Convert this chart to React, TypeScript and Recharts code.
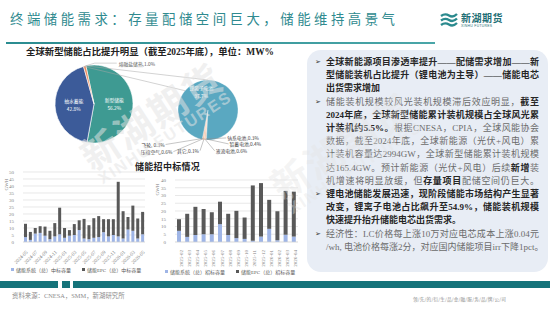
import React from "react";
import { PieChart, Pie, Cell, BarChart, Bar, XAxis, YAxis, CartesianGrid } from "recharts";

// 全球储能结构（截至2025年底）
const shareNames = ["新型储能", "抽水蓄能", "熔融盐储热"];
const shareValues = [56.2, 42.8, 1.0];
const shareColors = ["#3e9a92", "#3c5b99", "#ee8a5b"];

// 新型储能技术路线
const techNames = ["钠系电池", "铅蓄电池", "液流电池", "其它", "压缩空气", "飞轮", "锂离子电池"];
const techValues = [0.3, 0.4, 0.6, 0.1, 0.6, 0.3, 97.7];
const techColors = ["#e07c55", "#f3b287", "#e9996c", "#c9c9c9", "#f0a878", "#d9825a", "#5aa8c1"];

// 中标容量 GWh
const winMonths = [
  "2024-05", "2024-06", "2024-07", "2024-08", "2024-09", "2024-10", "2024-11", "2024-12",
  "2025-01", "2025-02", "2025-03", "2025-04", "2025-05", "2025-06", "2025-07", "2025-08",
  "2025-09", "2025-10", "2025-11", "2025-12", "2026-01", "2026-02", "2026-03", "2026-04", "2026-05",
];
const winSystem = [3.5, 1.5, 6, 6.5, 4.5, 2, 4, 5.5, 3, 4.5, 5, 8.5, 2.5, 2, 3, 3.5, 7, 4, 5, 4, 2.5, 9, 8, 2.5, 5.5];
const winEpc = [9.5, 5.7, 4, 4.8, 6.5, 6, 9.5, 19, 7, 4, 7.8, 7, 14, 10, 14, 15, 9.3, 12.3, 11.3, 39, 19.5, 8.8, 18, 14.3, 16];
const winTicks = [0, 5, 10, 15, 20, 25, 30, 35, 40, 45, 50];

// 招标容量 GWh
const bidMonths = [
  "2025-02", "2025-03", "2025-04", "2025-05", "2025-06", "2025-07", "2025-08", "2025-09",
  "2025-10", "2025-11", "2025-12", "2026-01", "2026-02", "2026-03", "2026-04",
];
const bidSystem = [7.2, 3.3, 4.5, 5, 5, 11.5, 4.5, 2.5, 2, 0.8, 3.5, 8.5, 1.2, 4.7, 3.5];
const bidEpc = [7.5, 14.9, 18.2, 16.3, 14.2, 14.5, 13.7, 17.6, 13.8, 35.7, 34.5, 18.7, 18.6, 28.3, 29];
const bidTicks = [0, 5, 10, 15, 20, 25, 30, 35, 40];

const SYS_COLOR = "#9fb5e6";
const EPC_COLOR = "#595959";
const RAD = Math.PI / 180;
const SERIF = '"Liberation Serif", "Noto Sans CJK SC", serif';
const SANS = '"Noto Sans CJK SC", "Noto Sans", sans-serif';

const BIG = { cx: 94, cy: 104, r: 39, start: 102 };
const SMALL = { cx: 208, cy: 110, r: 30, start: -93 };

// label offsets for the tiny slices, relative to slice outer point
const techLabelPos: Record<string, [number, number, "start" | "end"]> = {
  钠系电池: [20, -1, "start"],
  铅蓄电池: [23, 5, "start"],
  液流电池: [10, 12, "start"],
  其它: [-4, 12, "end"],
  压缩空气: [-30, 13, "end"],
  飞轮: [-37, 6, "end"],
};

const pt = (cx: number, cy: number, r: number, ang: number) => [
  cx + r * Math.cos(-ang * RAD),
  cy + r * Math.sin(-ang * RAD),
];

const bigLabel = (p: any) => {
  const { cx, cy, midAngle, outerRadius, name, value } = p;
  if (name === "熔融盐储热") {
    const [x0, y0] = pt(cx, cy, outerRadius, midAngle);
    return (
      <g>
        <polyline points={`${x0},${y0} ${x0 + 10},${y0 - 3} ${x0 + 32},${y0 - 3}`} stroke="#a6a6a6" strokeWidth={0.5} fill="none" />
        <text x={x0 + 34} y={y0 - 3} fontSize={4.8} fill="#595959" dominantBaseline="central" fontFamily={SANS}>
          {name},{value.toFixed(1)}%
        </text>
      </g>
    );
  }
  const [x, y] = pt(cx, cy, outerRadius * 0.52, midAngle);
  return (
    <text x={x} y={y} fill="#fff" fontSize={4.8} textAnchor="middle" fontFamily={SANS}>
      <tspan x={x} dy="-0.3em">{name}</tspan>
      <tspan x={x} dy="1.6em">{value.toFixed(1)}%</tspan>
    </text>
  );
};

const techLabel = (p: any) => {
  const { cx, cy, midAngle, outerRadius, name, value } = p;
  if (name === "锂离子电池") {
    const [x, y] = pt(cx, cy, outerRadius * 0.62, midAngle);
    return (
      <text x={x - 9} y={y} fill="#fff" fontSize={4.8} textAnchor="middle" fontFamily={SANS}>
        <tspan x={x - 9} dy="-0.3em">{name}</tspan>
        <tspan x={x - 9} dy="1.6em">{value.toFixed(1)}%</tspan>
      </text>
    );
  }
  const [x0, y0] = pt(cx, cy, outerRadius - 1, midAngle);
  const [dx, dy, anchor] = techLabelPos[name];
  const label = name === "飞轮" ? `${name}, ${value}%` : `${name},${value}%`;
  return (
    <g>
      <line x1={x0} y1={y0} x2={x0 + dx} y2={y0 + dy} stroke="#8c8c8c" strokeWidth={0.5} />
      <text x={x0 + dx + (anchor === "start" ? 1 : -1)} y={y0 + dy} fontSize={4.8} fill="#404040" textAnchor={anchor} dominantBaseline="central" fontFamily={SANS}>
        {label}
      </text>
    </g>
  );
};

function PiePanel() {
  const shareRows = shareNames.map((n, i) => ({ name: n, value: shareValues[i] }));
  const techRows = techNames.map((n, i) => ({ name: n, value: techValues[i] }));
  // connector lines from the split slice to the secondary pie
  const total = shareValues.reduce((a, b) => a + b, 0);
  const splitEnd = BIG.start - 360 * (shareValues[0] + shareValues[1]) / total;
  const [ax, ay] = pt(BIG.cx, BIG.cy, BIG.r, splitEnd);
  const [bx, by] = pt(BIG.cx, BIG.cy, BIG.r, splitEnd - 360 * shareValues[2] / total);
  const [tx, ty] = pt(SMALL.cx, SMALL.cy, SMALL.r, 90);
  const [lx, ly] = pt(SMALL.cx, SMALL.cy, SMALL.r, 140);
  return (
    <div style={{ position: "absolute", left: 0, top: 0 }}>
      <PieChart width={300} height={165} margin={{ top: 0, right: 0, bottom: 0, left: 0 }}>
        <Pie
          data={shareRows}
          dataKey="value"
          cx={BIG.cx}
          cy={BIG.cy}
          outerRadius={BIG.r}
          startAngle={BIG.start}
          endAngle={BIG.start - 360}
          stroke="#fff"
          strokeWidth={0.6}
          label={bigLabel}
          labelLine={false}
          isAnimationActive={false}
        >
          {shareRows.map((r, i) => (
            <Cell key={r.name} fill={shareColors[i]} />
          ))}
        </Pie>
        <Pie
          data={techRows}
          dataKey="value"
          cx={SMALL.cx}
          cy={SMALL.cy}
          outerRadius={SMALL.r}
          startAngle={SMALL.start}
          endAngle={SMALL.start - 360}
          stroke="#fff"
          strokeWidth={0.3}
          label={techLabel}
          labelLine={false}
          isAnimationActive={false}
        >
          {techRows.map((r, i) => (
            <Cell key={r.name} fill={techColors[i]} />
          ))}
        </Pie>
      </PieChart>
      <svg width={300} height={165} style={{ position: "absolute", left: 0, top: 0, pointerEvents: "none" }}>
        <line x1={bx} y1={by} x2={tx} y2={ty} stroke="#a6a6a6" strokeWidth={0.5} />
        <line x1={ax} y1={ay} x2={lx} y2={ly} stroke="#a6a6a6" strokeWidth={0.5} />
      </svg>
    </div>
  );
}

type BarsProps = {
  months: string[];
  sys: number[];
  epc: number[];
  ticks: number[];
  width: number;
  height: number;
  margin: { top: number; right: number; bottom: number; left: number };
  yWidth: number;
  barSize: number;
  interval: number;
  angle: number;
};

function StackBars({ months, sys, epc, ticks, width, height, margin, yWidth, barSize, interval, angle }: BarsProps) {
  const rows = months.map((m, i) => ({ month: m, sys: sys[i], epc: epc[i] }));
  const tick = { fontSize: 5, fill: "#7f7f7f", fontFamily: '"Liberation Serif", serif' };
  return (
    <BarChart width={width} height={height} data={rows} margin={margin}>
      <CartesianGrid vertical={false} stroke="#d9d9d9" strokeWidth={0.6} />
      <XAxis
        dataKey="month"
        interval={interval}
        angle={angle}
        textAnchor="end"
        height={24}
        tickLine={false}
        axisLine={{ stroke: "#d9d9d9", strokeWidth: 0.6 }}
        tick={tick}
        tickMargin={2}
      />
      <YAxis
        width={yWidth}
        domain={[0, ticks[ticks.length - 1]]}
        ticks={ticks}
        interval={0}
        tickLine={false}
        axisLine={false}
        tick={tick}
        tickMargin={3}
      />
      <Bar dataKey="sys" stackId="a" fill={SYS_COLOR} barSize={barSize} isAnimationActive={false} />
      <Bar dataKey="epc" stackId="a" fill={EPC_COLOR} barSize={barSize} isAnimationActive={false} />
    </BarChart>
  );
}

function Legend({ left, top, items }: { left: number; top: number; items: string[] }) {
  return (
    <div style={{ position: "absolute", left, top, display: "flex", gap: 11, fontSize: 5, color: "#595959", fontFamily: SERIF, whiteSpace: "nowrap" }}>
      {items.map((t, i) => (
        <span key={t} style={{ display: "flex", alignItems: "center" }}>
          <span style={{ width: 3, height: 3, background: i === 0 ? SYS_COLOR : EPC_COLOR, marginRight: 2, display: "inline-block" }} />
          {t}
        </span>
      ))}
    </div>
  );
}

type Seg = { t: string; b?: boolean };
const panelLines: { segs: Seg[]; bullet?: boolean; justify?: boolean }[] = [
  { bullet: true, justify: true, segs: [{ t: "全球新能源项目渗透率提升——配储需求增加——新", b: true }] },
  { justify: true, segs: [{ t: "型储能装机占比提升（锂电池为主导）——储能电芯", b: true }] },
  { segs: [{ t: "出货需求增加", b: true }] },
  { bullet: true, justify: true, segs: [{ t: "储能装机规模较风光装机规模滞后效应明显，" }, { t: "截至", b: true }] },
  { justify: true, segs: [{ t: "2024年底，全球新型储能累计装机规模占全球风光累", b: true }] },
  { justify: true, segs: [{ t: "计装机约5.5%。", b: true }, { t: "根据CNESA，CPIA，全球风能协会" }] },
  { justify: true, segs: [{ t: "数据，截至2024年底，全球新能源（光伏+风电）累" }] },
  { justify: true, segs: [{ t: "计装机容量达2994GW，全球新型储能累计装机规模" }] },
  { justify: true, segs: [{ t: "达165.4GW。预计新能源（光伏+风电）后续" }, { t: "新增", b: true }, { t: "装" }] },
  { justify: true, segs: [{ t: "机增速将明显放缓，但" }, { t: "存量项目", b: true }, { t: "配储空间仍巨大。" }] },
  { bullet: true, justify: true, segs: [{ t: "锂电池储能发展迅速，现阶段储能市场结构产生显著", b: true }] },
  { justify: true, segs: [{ t: "改变，锂离子电池占比飙升至54.9%，储能装机规模", b: true }] },
  { segs: [{ t: "快速提升抬升储能电芯出货需求。", b: true }] },
  { bullet: true, justify: true, segs: [{ t: "经济性：LC价格每上涨10万对应电芯成本上涨0.04元" }] },
  { justify: true, segs: [{ t: "/wh, 电池价格每涨2分，对应国内储能项目irr下降1pct。" }] },
];

function TextPanel() {
  const lh = 13.2;
  const top0 = 56;
  return (
    <div style={{ position: "absolute", left: 307, top: 50, width: 241, height: 222, background: "#e8edf5", borderRadius: 14 }}>
      {panelLines.map((ln, i) => (
        <React.Fragment key={i}>
          {ln.bullet && (
            <div style={{ position: "absolute", left: 8, top: top0 - 50 + i * lh, lineHeight: `${lh}px`, fontSize: 7, color: "#333", fontFamily: '"DejaVu Sans", sans-serif' }}>
              ➢
            </div>
          )}
          <div
            style={{
              position: "absolute",
              left: 19,
              top: top0 - 50 + i * lh,
              width: 213,
              lineHeight: `${lh}px`,
              fontSize: 9,
              fontFamily: SERIF,
              whiteSpace: "nowrap",
              textAlign: ln.justify ? "justify" : "left",
              textAlignLast: ln.justify ? "justify" : "left",
            }}
          >
            {ln.segs.map((s, j) => (
              <span key={j} style={{ fontWeight: s.b ? 700 : 400, color: s.b ? "#262626" : "#6b6b6b" }}>
                {s.t}
              </span>
            ))}
          </div>
        </React.Fragment>
      ))}
    </div>
  );
}

function Logo() {
  return (
    <div style={{ position: "absolute", left: 440, top: 12, display: "flex", alignItems: "center" }}>
      <svg width={18} height={16} viewBox="0 0 18 16">
        {[2, 6.5, 11].map((y) => (
          <path key={y} d={`M1 ${y + 2} Q5 ${y - 1} 9 ${y + 1.5} T17 ${y}`} stroke="#2b8a8e" strokeWidth={2.4} fill="none" />
        ))}
      </svg>
      <div style={{ marginLeft: 3 }}>
        <div style={{ fontSize: 10, lineHeight: "11px", fontWeight: 700, color: "#1f6f76", fontFamily: SANS, letterSpacing: 0.5 }}>新湖期货</div>
        <div style={{ fontSize: 3.4, lineHeight: "4px", color: "#1f6f76", fontFamily: '"Liberation Sans", sans-serif', marginTop: 1, letterSpacing: 0.3 }}>XINHU FUTURES</div>
      </div>
    </div>
  );
}

function Watermark({ left, top, alpha }: { left: number; top: number; alpha: number }) {
  return (
    <div
      style={{
        position: "absolute",
        left,
        top,
        transform: "rotate(-33deg)",
        transformOrigin: "center",
        pointerEvents: "none",
        color: `rgba(228,228,228,${alpha})`,
        textAlign: "center",
        lineHeight: 1,
        whiteSpace: "nowrap",
      }}
    >
      <div style={{ fontSize: 38, fontWeight: 700, fontFamily: SANS, letterSpacing: 2 }}>新湖期货</div>
      <div style={{ fontSize: 16, fontWeight: 700, fontFamily: '"Liberation Sans", sans-serif', letterSpacing: 2 }}>XINHU FUTURES</div>
    </div>
  );
}

export default function App() {
  return (
    <div style={{ position: "fixed", left: 0, top: 0, width: 550, height: 310, background: "#fff", overflow: "hidden", fontFamily: SERIF }}>
      <div style={{ position: "absolute", left: 10, top: 10, fontSize: 13.4, lineHeight: "16px", letterSpacing: 3.5, color: "#2f8a8f", fontFamily: SANS, whiteSpace: "nowrap" }}>
        终端储能需求：存量配储空间巨大，储能维持高景气
      </div>
      <div style={{ position: "absolute", left: 6, top: 42, width: 429, height: 1.6, background: "linear-gradient(to right, #2a8c90, #4aa6a8)" }} />
      <Logo />

      <div style={{ position: "absolute", left: 0, width: 300, top: 44, textAlign: "center", fontSize: 9.4, fontWeight: 700, color: "#222", fontFamily: SERIF, whiteSpace: "nowrap" }}>
        全球新型储能占比提升明显（截至2025年底），单位：MW%
      </div>
      <PiePanel />

      <div style={{ position: "absolute", left: 135, top: 160, fontSize: 9, fontWeight: 700, color: "#222", fontFamily: SERIF, whiteSpace: "nowrap", letterSpacing: 0.3 }}>
        储能招中标情况
      </div>

      <div style={{ position: "absolute", left: 0, top: 160 }}>
        <StackBars
          months={winMonths}
          sys={winSystem}
          epc={winEpc}
          ticks={winTicks}
          width={150}
          height={110}
          margin={{ top: 12, right: 5, bottom: 4, left: 0 }}
          yWidth={23}
          barSize={3}
          interval={1}
          angle={-45}
        />
      </div>
      <div style={{ position: "absolute", left: 150, top: 170 }}>
        <StackBars
          months={bidMonths}
          sys={bidSystem}
          epc={bidEpc}
          ticks={bidTicks}
          width={150}
          height={100}
          margin={{ top: 10, right: 2, bottom: 4, left: 0 }}
          yWidth={25}
          barSize={4}
          interval={0}
          angle={-90}
        />
      </div>
      <div style={{ position: "absolute", left: 1, top: 182, fontSize: 5, color: "#7f7f7f", transform: "rotate(-90deg)", fontFamily: SERIF }}>GWH</div>
      <div style={{ position: "absolute", left: 152, top: 187, fontSize: 5, color: "#7f7f7f", transform: "rotate(-90deg)", fontFamily: SERIF }}>GWH</div>
      <Legend left={11} top={266} items={["储能系统（总）中标容量", "储能EPC（总）中标容量"]} />
      <Legend left={165} top={268} items={["储能系统（总）招标容量", "储能EPC（总）招标容量"]} />

      <TextPanel />

      <div style={{ position: "absolute", left: 0, top: 281, width: 58, height: 7, background: "#15737a" }} />
      <div style={{ position: "absolute", left: 62, top: 281, width: 8, height: 7, background: "#15737a" }} />
      <div style={{ position: "absolute", left: 73, top: 281, width: 477, height: 7, background: "#15737a" }} />
      <div style={{ position: "absolute", left: 12, top: 291, fontSize: 6.4, color: "#8c8c8c", fontFamily: SERIF, whiteSpace: "nowrap" }}>
        资料来源：CNESA，SMM，新湖研究所
      </div>
      <div style={{ position: "absolute", left: 413, top: 296, fontSize: 4.6, color: "#8c8c8c", fontFamily: SANS, whiteSpace: "nowrap", letterSpacing: 0.2 }}>
        领/先/的/衍/生/品/金/融/服/务/品/牌/公/司
      </div>

      <Watermark left={75} top={95} alpha={0.55} />
      <Watermark left={265} top={125} alpha={0.4} />
    </div>
  );
}
